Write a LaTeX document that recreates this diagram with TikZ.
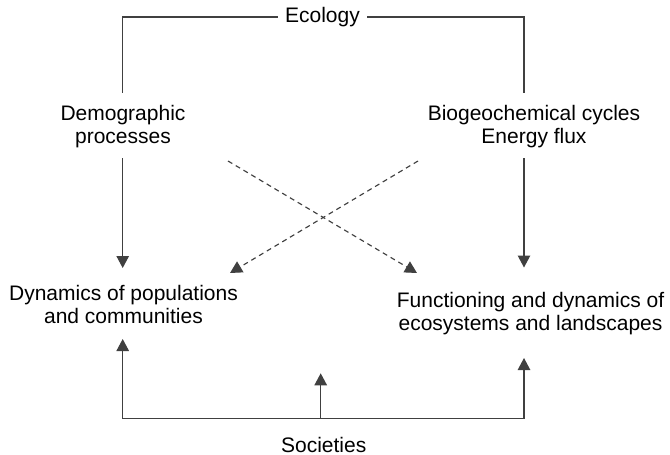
\documentclass[tikz,border=0pt]{standalone}
\usepackage{fontspec}
\setmainfont{Liberation Sans}
\usetikzlibrary{arrows.meta}
\begin{document}
\begin{tikzpicture}[x=1pt,y=-1pt,
  lbl/.style={font=\fontsize{21}{23}\selectfont, align=center, inner sep=0pt, text=black},
  ln/.style={line width=1.15pt, draw=black!75, line join=miter},
  tip/.tip={Triangle[length=12pt,width=12.5pt]},
  arr/.style={ln, -tip},
  dsh/.style={arr, dash pattern=on 5pt off 4pt}]
\useasboundingbox (0,0) rectangle (670,455);
% text nodes
\node[lbl, inner xsep=7pt] (eco) at (322.5,17) {Ecology};
\node[lbl] (dem) at (123,126.2) {Demographic\\processes};
\node[lbl] (bio) at (534,126.2) {Biogeochemical cycles\\Energy flux};
\node[lbl] (pop) at (123.5,304.5) {Dynamics of populations\\and communities};
\node[lbl] (fun) at (530.5,313.2) {Functioning and dynamics of\\ecosystems and landscapes};
\node[lbl] (soc) at (323.7,444.5) {Societies};
% connector end points
\coordinate (lt) at (122.7,92.7);
\coordinate (rt) at (524,92.7);
\coordinate (ls) at (122.7,158);
\coordinate (le) at (122.7,268);
\coordinate (rs) at (524,158);
\coordinate (re) at (524,267.5);
\coordinate (d1s) at (228,161);
\coordinate (d1e) at (417,273);
\coordinate (d2s) at (418,161);
\coordinate (d2e) at (230,273);
\coordinate (bl) at (122.7,418.3);
\coordinate (bm) at (320.7,418.3);
\coordinate (br) at (524,418.3);
\coordinate (plt) at (122.7,339);
\coordinate (mt) at (320.7,373.3);
\coordinate (frt) at (524,358);
% top bracket
\draw[ln] (eco.west) -| (lt);
\draw[ln] (eco.east) -| (rt);
% vertical arrows
\draw[arr] (ls) -- (le);
\draw[arr] (rs) -- (re);
% dashed cross arrows
\draw[dsh] (d1s) -- (d1e);
\draw[dsh] (d2s) -- (d2e);
% bottom bracket
\draw[ln, tip-tip] (plt) |- (br) -- (frt);
\draw[arr] (bm) -- (mt);
\end{tikzpicture}
\end{document}
